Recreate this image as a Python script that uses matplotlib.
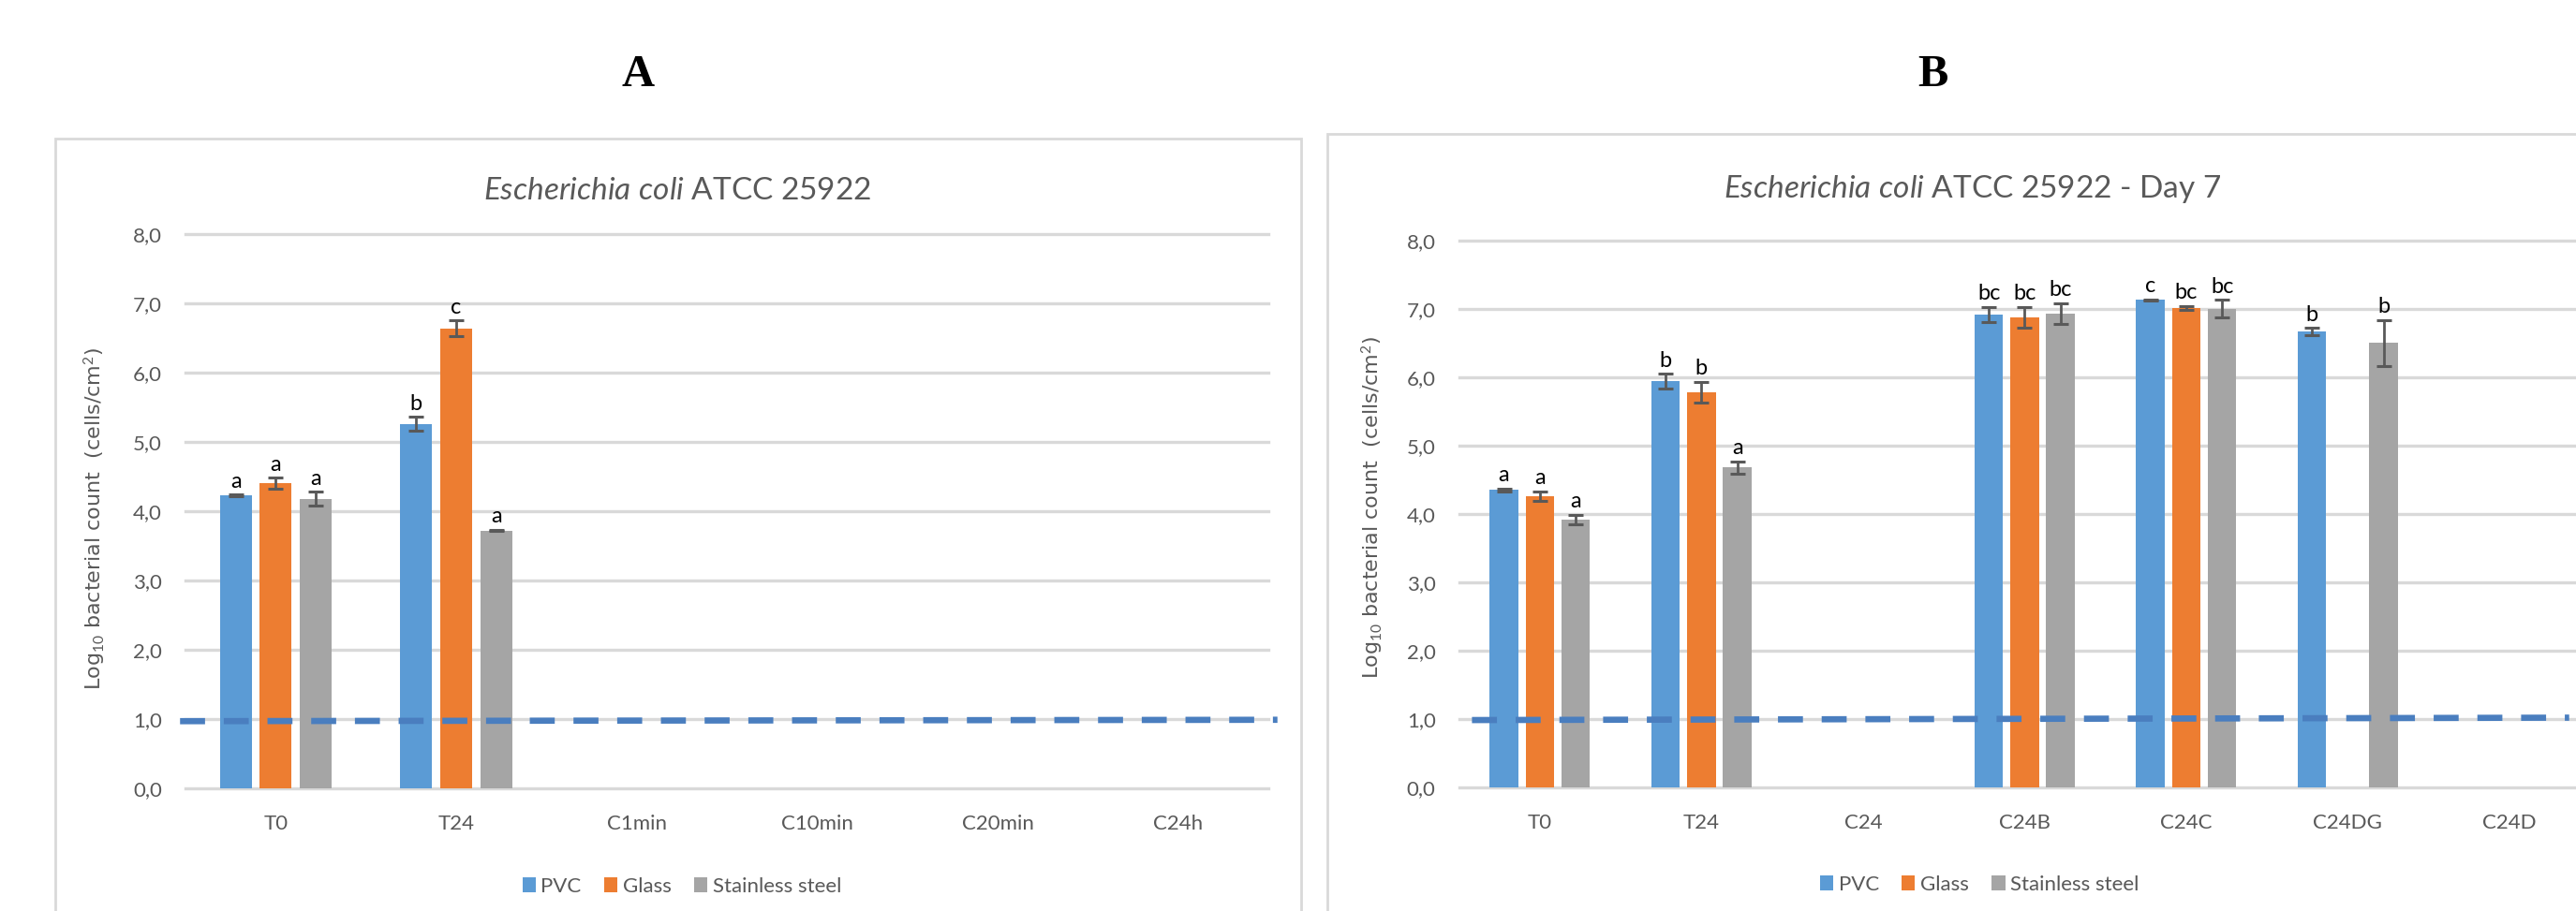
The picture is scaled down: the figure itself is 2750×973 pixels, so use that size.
import numpy as np
import matplotlib
matplotlib.use('Agg')
import matplotlib.pyplot as plt
from matplotlib.patches import Rectangle
from matplotlib.ticker import FuncFormatter

plt.rcParams['font.family'] = ['Lato', 'DejaVu Sans']
plt.rcParams['mathtext.fontset'] = 'custom'
plt.rcParams['mathtext.rm'] = 'Lato'
plt.rcParams['mathtext.it'] = 'Lato:italic'

nan = np.nan
grey_txt = '#595959'
grid_col = '#D9D9D9'

materials = ['PVC', 'Glass', 'Stainless steel']
colours = ['#5B9BD5', '#ED7D31', '#A5A5A5']

# panel A
cats_a = ['T0', 'T24', 'C1min', 'C10min', 'C20min', 'C24h']
pvc_a = [4.23, 5.26, nan, nan, nan, nan]
glass_a = [4.40, 6.64, nan, nan, nan, nan]
steel_a = [4.18, 3.72, nan, nan, nan, nan]
pvc_a_err = [0.01, 0.10, 0, 0, 0, 0]
glass_a_err = [0.08, 0.11, 0, 0, 0, 0]
steel_a_err = [0.10, 0.01, 0, 0, 0, 0]
pvc_a_let = ['a', 'b', '', '', '', '']
glass_a_let = ['a', 'c', '', '', '', '']
steel_a_let = ['a', 'a', '', '', '', '']
limit_a_x = [-0.53, 5.55]
limit_a_y = [0.97, 0.99]

# panel B
cats_b = ['T0', 'T24', 'C24', 'C24B', 'C24C', 'C24DG', 'C24D']
pvc_b = [4.35, 5.94, nan, 6.92, 7.13, 6.67, nan]
glass_b = [4.26, 5.78, nan, 6.88, 7.01, nan, nan]
steel_b = [3.92, 4.68, nan, 6.93, 7.00, 6.50, nan]
pvc_b_err = [0.02, 0.11, 0, 0.11, 0.01, 0.05, 0]
glass_b_err = [0.07, 0.15, 0, 0.15, 0.03, 0, 0]
steel_b_err = [0.07, 0.09, 0, 0.15, 0.13, 0.34, 0]
pvc_b_let = ['a', 'b', '', 'bc', 'c', 'b', '']
glass_b_let = ['a', 'b', '', 'bc', 'bc', '', '']
steel_b_let = ['a', 'a', '', 'bc', 'bc', 'b', '']
limit_b_x = [-0.42, 6.37]
limit_b_y = [0.985, 1.02]


def draw_panel(ax, cats, vals, errs, lets, lim_x, lim_y):
	x = np.arange(len(cats))
	w = 0.177
	offs = [-0.222, 0, 0.222]
	bars = []
	for i in range(3):
		v = np.array(vals[i], dtype=float)
		e = np.array(errs[i], dtype=float)
		b = ax.bar(x + offs[i], v, w, color=colours[i], zorder=2)
		bars.append(b)
		ok = ~np.isnan(v)
		ax.errorbar((x + offs[i])[ok], v[ok], yerr=e[ok], fmt='none', ecolor='#595959',
					elinewidth=2, capsize=6, capthick=2.2, zorder=3)
		for xi, vi, ei, li in zip(x + offs[i], v, e, lets[i]):
			if li and not np.isnan(vi):
				ax.annotate(li, (xi, vi + ei), xytext=(0, 5.5), textcoords='offset points',
							ha='center', va='baseline', fontsize=17, color='black')
	ax.plot(lim_x, lim_y, color='#4A7EBF', lw=4.8, dashes=(4, 3), clip_on=False, zorder=5)
	ax.set_xlim(-0.5, len(cats) - 0.5)
	ax.set_ylim(0, 8)
	ax.set_yticks(np.arange(0, 9, 1))
	ax.set_xticks(x)
	ax.set_xticklabels(cats)
	ax.yaxis.set_major_formatter(FuncFormatter(lambda v, p: ('%.1f' % v).replace('.', ',')))
	ax.yaxis.grid(True, color=grid_col, lw=2.4)
	ax.set_axisbelow(True)
	for gl in ax.get_ygridlines():
		gl.set_clip_on(False)
	for s in ax.spines.values():
		s.set_visible(False)
	ax.tick_params(axis='both', length=0, labelsize=16, labelcolor=grey_txt)
	ax.tick_params(axis='y', pad=18)
	ax.tick_params(axis='x', pad=20)
	return bars


fig = plt.figure(figsize=(27.5, 9.73), dpi=100)

# outer chart boxes
fig.add_artist(Rectangle((0.02145, -0.1), 0.4836, 0.9479, transform=fig.transFigure,
						 fill=False, edgecolor=grid_col, lw=2))
fig.add_artist(Rectangle((0.5153, -0.1), 0.55, 0.953, transform=fig.transFigure,
						 fill=False, edgecolor=grid_col, lw=2))

ax_a = fig.add_axes([0.0720, 0.1346, 0.4204, 0.6085])
bars_a = draw_panel(ax_a, cats_a, [pvc_a, glass_a, steel_a],
					[pvc_a_err, glass_a_err, steel_a_err],
					[pvc_a_let, glass_a_let, steel_a_let], limit_a_x, limit_a_y)

ax_b = fig.add_axes([0.5664, 0.1357, 0.4391, 0.6002])
bars_b = draw_panel(ax_b, cats_b, [pvc_b, glass_b, steel_b],
					[pvc_b_err, glass_b_err, steel_b_err],
					[pvc_b_let, glass_b_let, steel_b_let], limit_b_x, limit_b_y)

for ax, bars, lx, ly in [(ax_a, bars_a, 0.2647, 0.0267), (ax_b, bars_b, 0.7684, 0.0288)]:
	ax.legend(bars, materials, loc='center', bbox_to_anchor=(lx, ly), bbox_transform=fig.transFigure,
			  ncol=3, frameon=False, fontsize=16, handlelength=0.64, handleheight=0.73,
			  handletextpad=0.25, columnspacing=1.1, labelcolor=grey_txt)

fig.text(723 / 2750, 1 - 204 / 973, r'$\it{Escherichia\ coli}$ ATCC 25922', ha='center', va='center',
		 fontsize=24, color=grey_txt)
fig.text(2106 / 2750, 1 - 202 / 973, r'$\it{Escherichia\ coli}$ ATCC 25922 - Day 7', ha='center',
		 va='center', fontsize=24, color=grey_txt)

ylab = r'Log$_{10}$ bacterial count  (cells/cm$^{2}$)'
fig.text(101 / 2750, 1 - 554 / 973, ylab, rotation=90, ha='center', va='center',
		 fontsize=16, color=grey_txt, family='DejaVu Sans')
fig.text(1465 / 2750, 1 - 542 / 973, ylab, rotation=90, ha='center', va='center',
		 fontsize=16, color=grey_txt, family='DejaVu Sans')

fig.text(681 / 2750, 1 - 80 / 973, 'A', ha='center', va='center', fontsize=35,
		 fontweight='bold', family='Liberation Serif')
fig.text(2063 / 2750, 1 - 80 / 973, 'B', ha='center', va='center', fontsize=35,
		 fontweight='bold', family='Liberation Serif')

fig.savefig('out.png', dpi=100)
